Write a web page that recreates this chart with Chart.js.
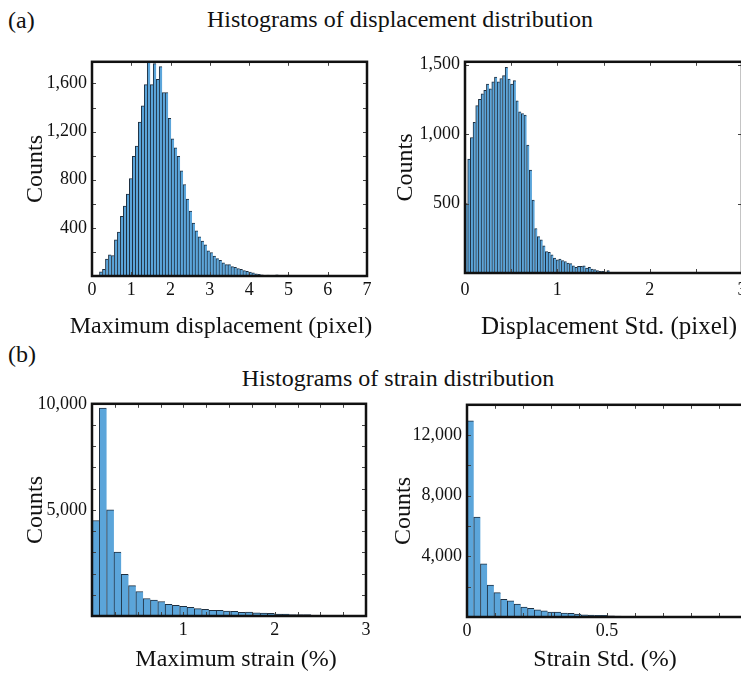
<!DOCTYPE html>
<html>
<head>
<meta charset="utf-8">
<script src="https://cdn.jsdelivr.net/npm/chart.js@4.4.0/dist/chart.umd.min.js"></script>
<style>
    html, body { margin: 0; padding: 0; width: 741px; height: 673px; overflow: hidden; background: #fff; }
    .txt { position: absolute; font-family: "Liberation Serif", "Times New Roman", serif; font-size: 24px; color: #111; white-space: nowrap; line-height: 1; }
    .mid { transform: translateX(-50%); }
    .panel { position: absolute; }
</style>
</head>
<body>
<div class="txt" style="left:8px; top:8px">(a)</div>
<div class="txt mid" style="left:400px; top:7px">Histograms of displacement distribution</div>
<div class="txt" style="left:8px; top:342px">(b)</div>
<div class="txt mid" style="left:398px; top:366px">Histograms of strain distribution</div>

<div class="panel" style="left:15px; top:46px; width:365px; height:298px"><canvas id="dispMax"></canvas></div>
<div class="panel" style="left:385px; top:46px; width:370px; height:298px"><canvas id="dispStd"></canvas></div>
<div class="panel" style="left:15px; top:388px; width:364px; height:289px"><canvas id="strainMax"></canvas></div>
<div class="panel" style="left:385px; top:389px; width:375px; height:288px"><canvas id="strainStd"></canvas></div>

<!-- x-axis titles (wider than the plot boxes, so kept outside the canvas) -->
<div class="txt mid" style="left:221px; top:313px">Maximum displacement (pixel)</div>
<div class="txt mid" style="left:609px; top:313px; font-size:25px">Displacement Std. (pixel)</div>
<div class="txt mid" style="left:236px; top:646px">Maximum strain (%)</div>
<div class="txt mid" style="left:605px; top:646px">Strain Std. (%)</div>

<script>
/* ==========================================================================
DATA: bin counts
========================================================================== */

// (a) maximum displacement, pixel - bins of 0.076 starting at 0.19
const dispMaxStart = 0.19;
const dispMaxWidth = 0.076;
const dispMaxCounts = [
    35, 55, 140, 175, 170, 300, 365, 495, 580, 680, 810, 995, 1080, 1280, 1415,
    1590, 1775, 1590, 1765, 1635, 1740, 1525, 1525, 1310, 1140, 1065, 995, 875,
    760, 640, 540, 440, 375, 325, 290, 260, 210, 195, 165, 145, 130, 110, 95, 95,
    78, 72, 62, 55, 45, 38, 33, 27, 19, 14, 9, 6, 8, 5, 4, 10, 5, 3, 1, 1,
];
const dispMaxXTicks = [0, 1, 2, 3, 4, 5, 6, 7];
const dispMaxYTicks = [400, 800, 1200, 1600];

// (a) displacement std, pixel - bins of 0.029 starting at 0
const dispStdStart = 0;
const dispStdWidth = 0.029;
const dispStdCounts = [
    500, 820, 975, 1085, 1205, 1250, 1290, 1315, 1360, 1325, 1375, 1410, 1375,
    1400, 1420, 1480, 1395, 1360, 1385, 1240, 1160, 1148, 1136, 920, 740, 525,
    320, 262, 238, 195, 155, 148, 131, 107, 95, 100, 90, 83, 71, 67, 52, 40, 48,
    48, 52, 36, 40, 29, 24, 17, 12, 12, 5, 17, 2, 2, 2, 1, 1, 0, 3, 4, 2, 1,
];
const dispStdXTicks = [0, 1, 2, 3];
const dispStdYTicks = [500, 1000, 1500];

// (b) maximum strain, % - bins of 0.08 starting at 0
const strainMaxStart = 0;
const strainMaxWidth = 0.08;
const strainMaxCounts = [
    4500, 9800, 5000, 3010, 1965, 1435, 1155, 825, 750, 685, 545, 500, 450, 405,
    345, 310, 265, 265, 235, 220, 170, 185, 155, 140, 125, 95, 95, 62, 62, 62,
    31, 31, 15, 10, 8, 5, 3,
];
const strainMaxXTicks = [1, 2, 3];
const strainMaxYTicks = [5000, 10000];

// (b) strain std, % - bins of 0.024 starting at 0
const strainStdStart = 0;
const strainStdWidth = 0.024;
const strainStdCounts = [
    12950, 6600, 3515, 2105, 1605, 1170, 1065, 845, 650, 565, 475, 410, 325, 325,
    260, 240, 195, 150, 130, 110, 110, 85, 65, 45, 45, 45, 45, 22, 20, 15, 10, 8,
    5, 3,
];
const strainStdXTicks = [0, 0.5, 1];
const strainStdYTicks = [4000, 8000, 12000];

/* ==========================================================================
CHART CONFIGURATION
========================================================================== */
const SERIF = "'Liberation Serif', 'Times New Roman', serif";
const INK = "#111111";
const BAR_FILL = "#5ba5da";
const BAR_EDGE = "#1e2f40";
const TICK_LEN = 4;

const hasTick = (list, v) => list.some((t) => Math.abs(t - v) < 1e-6);

// minor tick positions every `step` from 0 up to max
function stepTicks(max, step) {
    const out = [];
    for (let i = 0; i * step <= max + 1e-9; i++) {
        out.push({ value: Math.round(i * step * 1e6) / 1e6 });
    }
    return out;
}

// boxed frame with inward tick marks on all four sides
const framePlugin = {
    id: "frame",
    afterDatasetsDraw(chart) {
        const { ctx, chartArea: a, scales } = chart;
        ctx.save();
        ctx.strokeStyle = "#444";
        ctx.lineWidth = 1;
        ctx.beginPath();
        scales.x.ticks.forEach((t) => {
            const px = Math.round(scales.x.getPixelForValue(t.value)) + 0.5;
            ctx.moveTo(px, a.top);
            ctx.lineTo(px, a.top + TICK_LEN);
            ctx.moveTo(px, a.bottom);
            ctx.lineTo(px, a.bottom - TICK_LEN);
        });
        scales.y.ticks.forEach((t) => {
            const py = Math.round(scales.y.getPixelForValue(t.value)) + 0.5;
            ctx.moveTo(a.left, py);
            ctx.lineTo(a.left + TICK_LEN, py);
            ctx.moveTo(a.right, py);
            ctx.lineTo(a.right - TICK_LEN, py);
        });
        ctx.stroke();
        ctx.strokeStyle = INK;
        ctx.lineWidth = 2.5;
        ctx.strokeRect(a.left, a.top, a.right - a.left, a.bottom - a.top);
        ctx.restore();
    },
};

function histogram(id, counts, start, width, cfg) {
    const data = counts.map((c, i) => ({ x: start + (i + 0.5) * width, y: c }));

    new Chart(document.getElementById(id), {
        type: "bar",
        data: {
            datasets: [
                {
                    data: data,
                    backgroundColor: BAR_FILL,
                    borderColor: BAR_EDGE,
                    borderWidth: { left: 1, top: 1, right: 0, bottom: 0 },
                    barPercentage: 1,
                    categoryPercentage: 1,
                },
            ],
        },
        options: {
            animation: false,
            responsive: true,
            maintainAspectRatio: false,
            layout: { padding: { top: 14, right: 13, left: 0, bottom: 0 } },
            plugins: { legend: { display: false }, tooltip: { enabled: false } },
            scales: {
                x: {
                    type: "linear",
                    offset: false,
                    min: 0,
                    max: cfg.xMax,
                    grid: { display: false, drawTicks: false },
                    border: { display: false },
                    afterBuildTicks: (s) => { s.ticks = stepTicks(cfg.xMax, cfg.xStep); },
                    ticks: {
                        autoSkip: false,
                        maxRotation: 0,
                        padding: cfg.xPad,
                        color: INK,
                        font: { family: SERIF, size: 18 },
                        callback: (v) => (hasTick(cfg.xTicks, v) ? String(v) : ""),
                    },
                    afterFit: (s) => { s.height = cfg.xAxisH; },
                },
                y: {
                    min: 0,
                    max: cfg.yMax,
                    grid: { display: false, drawTicks: false },
                    border: { display: false },
                    afterBuildTicks: (s) => { s.ticks = stepTicks(cfg.yMax, cfg.yStep); },
                    ticks: {
                        autoSkip: false,
                        padding: 5,
                        color: INK,
                        font: { family: SERIF, size: 18 },
                        callback: (v) => (hasTick(cfg.yTicks, v) ? v.toLocaleString("en-US") : ""),
                    },
                    title: {
                        display: true,
                        text: "Counts",
                        color: INK,
                        font: { family: SERIF, size: 24 },
                        padding: { top: cfg.yTitlePad, bottom: 0 },
                    },
                    afterFit: (s) => { s.width = cfg.yAxisW; },
                },
            },
        },
        plugins: [framePlugin],
    });
}

if (typeof Chart !== "undefined") {
    histogram("dispMax", dispMaxCounts, dispMaxStart, dispMaxWidth, {
        xMax: 7, xStep: 1, xTicks: dispMaxXTicks,
        yMax: 1780, yStep: 200, yTicks: dispMaxYTicks,
        xAxisH: 68, yAxisW: 77, xPad: 3, yTitlePad: 6,
    });

    histogram("dispStd", dispStdCounts, dispStdStart, dispStdWidth, {
        xMax: 3, xStep: 0.5, xTicks: dispStdXTicks,
        yMax: 1520, yStep: 500, yTicks: dispStdYTicks,
        xAxisH: 71, yAxisW: 80, xPad: 6, yTitlePad: 6,
    });

    histogram("strainMax", strainMaxCounts, strainMaxStart, strainMaxWidth, {
        xMax: 3, xStep: 0.25, xTicks: strainMaxXTicks,
        yMax: 10000, yStep: 1000, yTicks: strainMaxYTicks,
        xAxisH: 61, yAxisW: 77, xPad: 3, yTitlePad: 6,
    });

    histogram("strainStd", strainStdCounts, strainStdStart, strainStdWidth, {
        xMax: 1, xStep: 0.1, xTicks: strainStdXTicks,
        yMax: 14000, yStep: 2000, yTicks: strainStdYTicks,
        xAxisH: 60, yAxisW: 82, xPad: 3, yTitlePad: 4,
    });
}
</script>
</body>
</html>
